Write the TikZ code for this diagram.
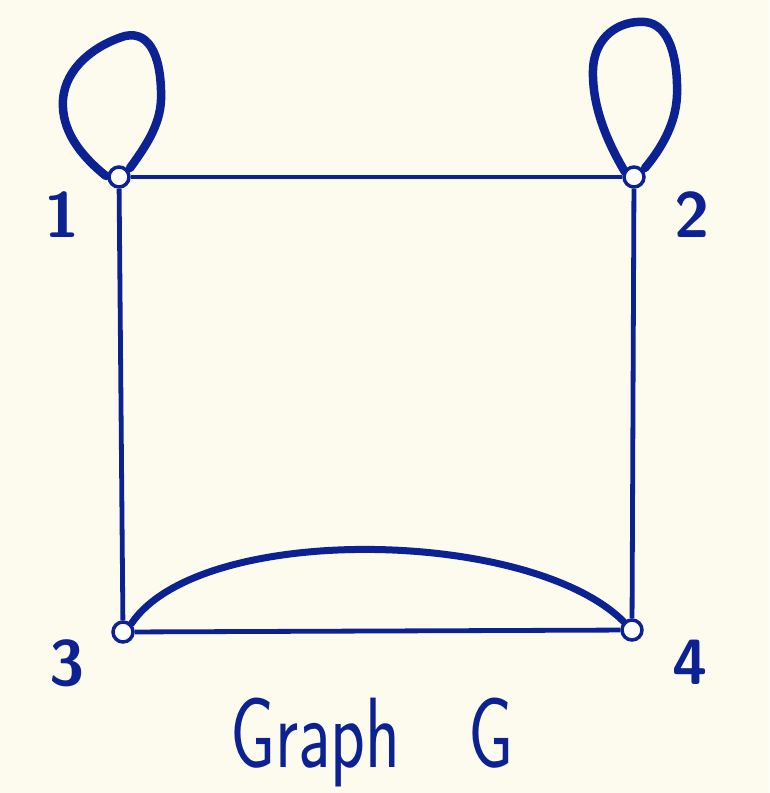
\documentclass[tikz,border=0pt]{standalone}
\usepackage{xcolor}
\usepackage{tikz}
\usetikzlibrary{positioning}
\definecolor{ink}{RGB}{12,34,146}
\definecolor{paper}{RGB}{253,251,238}
\tikzset{
  % --- vertices ---------------------------------------------------------------
  vert/.style={circle,draw=ink,fill=white,line width=3.5pt,minimum size=20pt,
               inner sep=0pt},
  vlab/.style={text=ink,font=\sffamily\bfseries\fontsize{64}{64}\selectfont,
               inner sep=0pt},
  % --- edges ------------------------------------------------------------------
  edge/.style={draw=ink,line width=4.8pt},
  loopedge/.style={draw=ink,line width=8.5pt,line cap=round,line join=round},
  arcedge/.style={draw=ink,line width=7pt,line cap=round},
  title/.style={text=ink,font=\sffamily\fontsize{100}{100}\selectfont,
                inner sep=0pt,xscale=0.72,transform shape},
}
\begin{document}
\begin{tikzpicture}[x=1pt, y=-1pt]
  \fill[paper] (0,0) rectangle (769,793);
  \useasboundingbox (0,0) rectangle (769,793);

  % loops first, so the vertex circles sit on top
  \coordinate (l1a) at (106,176);
  \coordinate (l1b) at (130,168);
  \coordinate (l2a) at (625,172);
  \coordinate (l2b) at (645,168);
  \draw[loopedge] (l1a) .. controls (80,155) and (61,130) .. (63,100)
    .. controls (65,68) and (95,45) .. (125,36)
    .. controls (152,30) and (162,62) .. (161,100)
    .. controls (160,125) and (146,146) .. (l1b);
  \draw[loopedge] (l2a) .. controls (606,140) and (592,105) .. (593,70)
    .. controls (594,36) and (620,20) .. (645,22)
    .. controls (670,24) and (678,60) .. (677,95)
    .. controls (676,125) and (660,150) .. (l2b);

  \node[vert] (v1) at (119,177) {};
  \node[vert] (v2) at (634,177) {};
  \node[vert] (v3) at (123,632) {};
  \node[vert] (v4) at (632,630) {};

  \draw[edge] (v1) -- (v2);
  \draw[edge] (v1) -- (v3);
  \draw[edge] (v2) -- (v4);
  \draw[edge] (v3) -- (v4);
  \draw[arcedge] (v3.north east) .. controls (200,522) and (530,528) .. (v4.north west);

  \node[vlab] (t1) at (62,215) {1};
  \node[vlab] (t2) at (692,215) {2};
  \node[vlab] (t3) at (67,663) {3};
  \node[vlab] (t4) at (690,662) {4};

  \node[title,anchor=base west] (cap) at (230,767) {Graph\hspace{95pt}G};
\end{tikzpicture}
\end{document}
